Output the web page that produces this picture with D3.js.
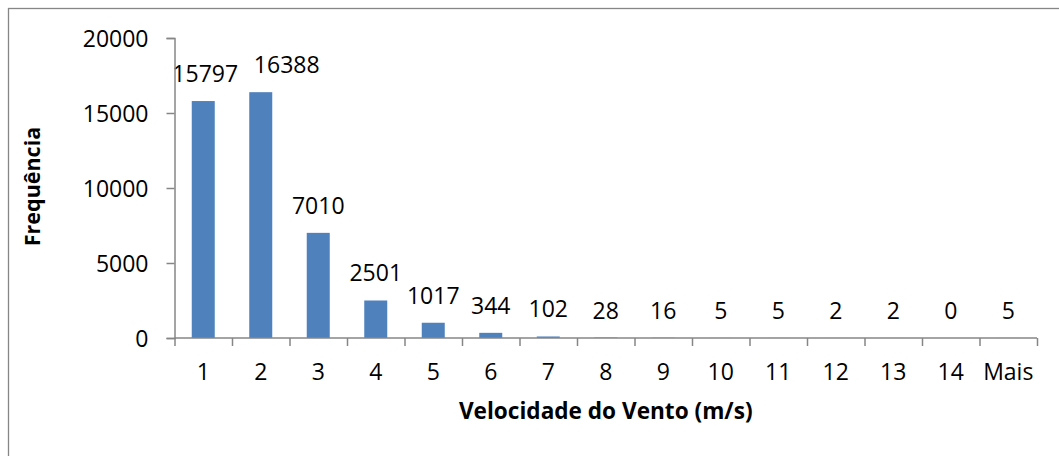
<!DOCTYPE html>
<html>
<head>
<meta charset="utf-8">
<script src="https://cdn.jsdelivr.net/npm/d3@7"></script>
<style>
  body { margin: 0; background: #fff; }
  svg text { font-family: "Open Sans", sans-serif; fill: #000; }
</style>
</head>
<body>
<svg id="chart"></svg>
<script>
const categories = ["1", "2", "3", "4", "5", "6", "7", "8", "9", "10", "11", "12", "13", "14", "Mais"];
const frequencies = [15797, 16388, 7010, 2501, 1017, 344, 102, 28, 16, 5, 5, 2, 2, 0, 5];
const yTicks = [0, 5000, 10000, 15000, 20000];

const size = { width: 1059, height: 456 };
const margin = { top: 38, right: 22, bottom: 118, left: 174.5 };
const COLOR = "#4F81BD";
const AXIS = "#868686";

const svg = d3.select("#chart").attr("width", size.width).attr("height", size.height);

// outer frame (right and bottom edges fall outside the picture)
svg.append("rect")
  .attr("x", 8.5).attr("y", 8.5)
  .attr("width", size.width + 20).attr("height", size.height + 20)
  .attr("fill", "none").attr("stroke", AXIS).attr("stroke-width", 1.3);

const x = d3.scaleBand()
  .domain(categories)
  .range([margin.left, size.width - margin.right])
  .paddingInner(0.6).paddingOuter(0.3);

const y = d3.scaleLinear()
  .domain([0, 20000])
  .range([size.height - margin.bottom, margin.top]);

const base = size.height - margin.bottom;

// bars
svg.append("g")
  .selectAll("rect")
  .data(frequencies)
  .join("rect")
  .attr("x", (d, i) => x(categories[i]))
  .attr("y", (d) => y(d))
  .attr("width", x.bandwidth())
  .attr("height", (d) => base - y(d))
  .attr("fill", COLOR);

// value labels (the second one was nudged right in the original to avoid overlap)
svg.append("g")
  .selectAll("text")
  .data(frequencies)
  .join("text")
  .attr("x", (d, i) => x(categories[i]) + x.bandwidth() / 2 + (i == 1 ? 26 : i == 0 ? 2 : 0))
  .attr("y", (d) => y(d) - 19)
  .attr("text-anchor", "middle")
  .style("font-size", "23px")
  .text((d) => d);

// y axis
const yAxis = svg.append("g")
  .attr("transform", `translate(${margin.left}, 0)`)
  .call(d3.axisLeft(y).tickValues(yTicks).tickSize(8).tickPadding(18).tickFormat(d3.format("d")));
yAxis.selectAll("text").style("font-size", "23px").attr("dy", "0.36em");

// x axis with ticks between categories
const xLine = d3.scaleLinear().domain([0, categories.length]).range([margin.left, size.width - margin.right]);
const xAxis = svg.append("g")
  .attr("transform", `translate(0, ${base})`)
  .call(d3.axisBottom(xLine).tickValues(d3.range(categories.length + 1)).tickSize(8).tickFormat(""));
xAxis.select(".domain").attr("d", `M${margin.left},0H${size.width - margin.right}`);

svg.append("g")
  .selectAll("text")
  .data(categories)
  .join("text")
  .attr("x", (d) => x(d) + x.bandwidth() / 2)
  .attr("y", base + 42)
  .attr("text-anchor", "middle")
  .style("font-size", "23px")
  .text((d) => d);

svg.selectAll(".domain, .tick line").attr("stroke", AXIS).attr("stroke-width", 1.5);
svg.selectAll(".tick text").attr("fill", "#000");

// axis titles
svg.append("text")
  .attr("x", (margin.left + size.width - margin.right) / 2)
  .attr("y", 419)
  .attr("text-anchor", "middle")
  .style("font-size", "22.6px")
  .style("font-weight", "bold")
  .text("Velocidade do Vento (m/s)");

svg.append("text")
  .attr("transform", `translate(40, ${(126 + 247) / 2}) rotate(-90)`)
  .attr("text-anchor", "middle")
  .style("font-size", "21.5px")
  .style("font-weight", "bold")
  .text("Frequência");
</script>
</body>
</html>
